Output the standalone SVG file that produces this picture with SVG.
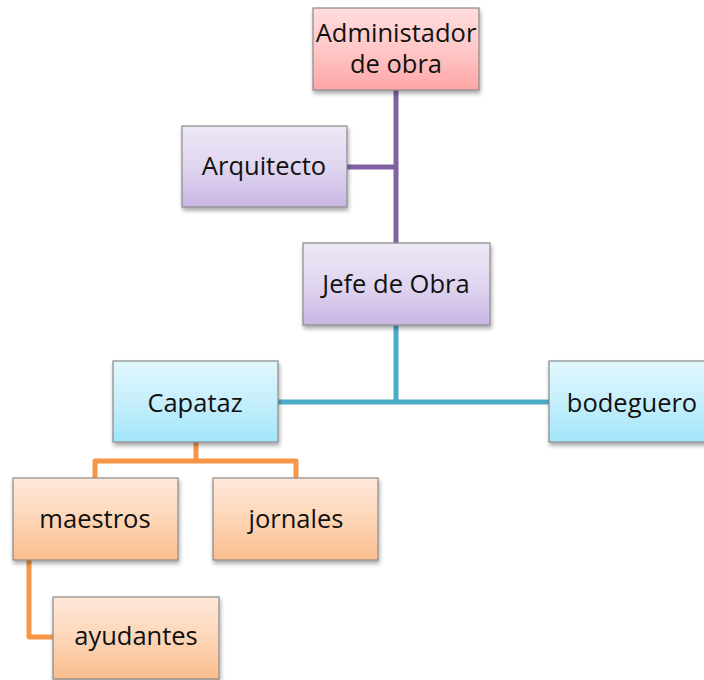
<svg xmlns="http://www.w3.org/2000/svg" width="704" height="680" viewBox="0 0 704 680">
<defs>
<linearGradient id="gPink" x1="0" y1="0" x2="0" y2="1"><stop offset="0" stop-color="#ffdcdc"/><stop offset="0.5" stop-color="#ffc8c8"/><stop offset="1" stop-color="#ffa6a6"/></linearGradient>
<linearGradient id="gPurple" x1="0" y1="0" x2="0" y2="1"><stop offset="0" stop-color="#eee8f6"/><stop offset="0.5" stop-color="#e0d6f0"/><stop offset="1" stop-color="#c9b6e4"/></linearGradient>
<linearGradient id="gTeal" x1="0" y1="0" x2="0" y2="1"><stop offset="0" stop-color="#e2f7fd"/><stop offset="0.5" stop-color="#c6effb"/><stop offset="1" stop-color="#a0e5fa"/></linearGradient>
<linearGradient id="gOrange" x1="0" y1="0" x2="0" y2="1"><stop offset="0" stop-color="#fee8d9"/><stop offset="0.5" stop-color="#fdd6b8"/><stop offset="1" stop-color="#fbbd8c"/></linearGradient>
<filter id="sh" x="-10%" y="-10%" width="125%" height="130%"><feGaussianBlur in="SourceAlpha" stdDeviation="2"/><feOffset dx="1" dy="3"/><feComponentTransfer><feFuncA type="linear" slope="0.35"/></feComponentTransfer><feMerge><feMergeNode/><feMergeNode in="SourceGraphic"/></feMerge></filter>
</defs>
<style>
.box{stroke:#8a8a8a;stroke-width:1.2;filter:url(#sh)}
.t{font-family:"Open Sans","Noto Sans","Liberation Sans",sans-serif;font-size:25.5px;fill:#111;text-anchor:middle}
.c{fill:none;stroke-width:5;stroke-linejoin:round}
</style>
<rect width="704" height="680" fill="#fff"/>
<g id="connectors">
<path class="c" stroke="#8064a2" d="M396 90V243M347 167H396"/>
<path class="c" stroke="#4bacc6" d="M396 325V402M278 402H549"/>
<path class="c" stroke="#f79646" d="M196 442V461M95 478V461H296V478M29 560V637H53"/>
</g>
<g id="n-admin"><rect class="box" x="313" y="8" width="166" height="82" fill="url(#gPink)"/><text class="t" x="396" y="42">Administador</text><text class="t" x="396" y="73">de obra</text></g>
<g id="n-arq"><rect class="box" x="182" y="126" width="165" height="81" fill="url(#gPurple)"/><text class="t" x="264" y="175">Arquitecto</text></g>
<g id="n-jefe"><rect class="box" x="303" y="243" width="187" height="82" fill="url(#gPurple)"/><text class="t" x="396" y="293">Jefe de Obra</text></g>
<g id="n-capataz"><rect class="box" x="113" y="361" width="165" height="81" fill="url(#gTeal)"/><text class="t" x="195" y="412">Capataz</text></g>
<g id="n-bodeguero"><rect class="box" x="549" y="361" width="166" height="81" fill="url(#gTeal)"/><text class="t" x="632" y="412">bodeguero</text></g>
<g id="n-maestros"><rect class="box" x="13" y="478" width="165" height="82" fill="url(#gOrange)"/><text class="t" x="95" y="528">maestros</text></g>
<g id="n-jornales"><rect class="box" x="213" y="478" width="165" height="82" fill="url(#gOrange)"/><text class="t" x="296" y="528">jornales</text></g>
<g id="n-ayudantes"><rect class="box" x="53" y="597" width="166" height="82" fill="url(#gOrange)"/><text class="t" x="136" y="645">ayudantes</text></g>
</svg>
